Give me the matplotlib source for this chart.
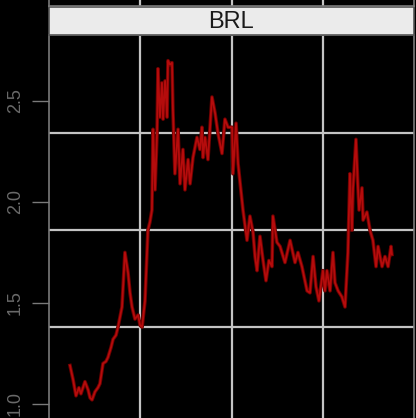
import matplotlib.pyplot as plt

# BRL series (x in years, y in currency units)
years = [1996.15, 1996.32, 1996.48, 1996.64, 1996.75, 1996.97, 1997.14, 1997.25, 1997.36, 1997.52,
         1997.68, 1997.79, 1997.96, 1998.12, 1998.23, 1998.40, 1998.51, 1998.67, 1998.78, 1998.89,
         1999.00, 1999.16, 1999.33, 1999.44, 1999.55, 1999.71, 1999.88, 1999.99, 2000.10, 2000.26,
         2000.42, 2000.53, 2000.64, 2000.70, 2000.81, 2000.92, 2000.97, 2001.08, 2001.19, 2001.25,
         2001.36, 2001.47, 2001.52, 2001.63, 2001.74, 2001.79, 2001.90, 2002.07, 2002.18, 2002.34,
         2002.45, 2002.62, 2002.73, 2002.89, 2003.11, 2003.27, 2003.38, 2003.44, 2003.55, 2003.71,
         2003.93, 2004.10, 2004.26, 2004.48, 2004.64, 2004.81, 2005.03, 2005.08, 2005.25, 2005.36,
         2005.63, 2005.85, 2006.01, 2006.18, 2006.29, 2006.40, 2006.56, 2006.73, 2006.89, 2007.05,
         2007.22, 2007.27, 2007.49, 2007.66, 2007.93, 2008.21, 2008.48, 2008.64, 2008.86, 2009.14,
         2009.30, 2009.47, 2009.63, 2009.79, 2010.01, 2010.12, 2010.23, 2010.40, 2010.56, 2010.67,
         2010.84, 2011.05, 2011.22, 2011.38, 2011.49, 2011.60, 2011.66, 2011.82, 2011.93, 2011.99,
         2012.15, 2012.21, 2012.42, 2012.59, 2012.75, 2012.92, 2013.03, 2013.25, 2013.41, 2013.58,
         2013.74, 2013.79]
brl = [1.19, 1.12, 1.04, 1.08, 1.05, 1.11, 1.07, 1.03, 1.02, 1.06,
       1.08, 1.10, 1.20, 1.21, 1.23, 1.28, 1.32, 1.34, 1.38, 1.43,
       1.48, 1.75, 1.65, 1.55, 1.48, 1.42, 1.44, 1.39, 1.38, 1.51,
       1.86, 1.90, 1.96, 2.36, 2.06, 2.34, 2.66, 2.42, 2.59, 2.41,
       2.60, 2.42, 2.70, 2.68, 2.69, 2.46, 2.14, 2.36, 2.09, 2.26,
       2.06, 2.21, 2.09, 2.22, 2.32, 2.26, 2.37, 2.22, 2.32, 2.21,
       2.52, 2.44, 2.34, 2.24, 2.41, 2.37, 2.37, 2.14, 2.39, 2.19,
       1.96, 1.81, 1.93, 1.85, 1.73, 1.66, 1.83, 1.71, 1.61, 1.71,
       1.68, 1.93, 1.80, 1.78, 1.70, 1.81, 1.70, 1.75, 1.68, 1.56,
       1.55, 1.73, 1.58, 1.51, 1.66, 1.56, 1.66, 1.56, 1.75, 1.60,
       1.56, 1.53, 1.48, 1.75, 2.14, 1.86, 2.07, 2.31, 2.07, 1.96,
       2.07, 1.91, 1.95, 1.86, 1.81, 1.68, 1.78, 1.68, 1.73, 1.68,
       1.78, 1.74]

y_ticks = [1.0, 1.5, 2.0, 2.5]
h_grid = [1.38, 1.86, 2.34]
v_grid = [2000, 2005, 2010]
panel_name = 'BRL'

W, H = 416, 418
fig = plt.figure(figsize=(W / 100, H / 100), dpi=100, facecolor='black')

grey = '#7a7a7a'
label_grey = '#6a6a6a'
grid_col = '#c4c4c4'

# main panel
ax = fig.add_axes([49 / W, 0, 365 / W, 383 / H], facecolor='black')
for v in h_grid:
    ax.axhline(v, color=grid_col, lw=1.6, zorder=1)
for v in v_grid:
    ax.axvline(v, color=grid_col, lw=1.6, zorder=1)
ax.plot(years, brl, color='#6e0000', lw=2.6, zorder=3)
ax.plot(years, brl, color='#b50c0c', lw=1.3, zorder=4)
ax.set_xlim(1995, 2015)
ax.set_ylim(0.93, 2.827)
ax.set_yticks(y_ticks)
ax.set_yticklabels(['1.0', '1.5', '2.0', '2.5'], rotation=90, va='center',
                   family='Liberation Sans', fontsize=13, color=label_grey)
ax.tick_params(axis='y', length=12, width=1, color=grey, pad=6)
ax.set_xticks([])
for s in ax.spines.values():
    s.set_color(grey)
    s.set_linewidth(1.2)
ax.spines['bottom'].set_visible(False)

# strip with the panel name
strip = fig.add_axes([49 / W, 383 / H, 365 / W, 28 / H], facecolor='#ebebeb')
strip.set_xticks([])
strip.set_yticks([])
for s in strip.spines.values():
    s.set_color('#555555')
    s.set_linewidth(1.2)
strip.text(0.5, 0.47, panel_name, ha='center', va='center', fontsize=17,
           family='Liberation Sans', color='#1a1a1a', transform=strip.transAxes)

# bottom edge of the panel above
top = fig.add_axes([49 / W, 412 / H, 365 / W, 6 / H], facecolor='black')
top.set_xlim(1995, 2015)
for v in v_grid:
    top.axvline(v, color=grid_col, lw=1.6)
top.set_xticks([])
top.set_yticks([])
for s in top.spines.values():
    s.set_color(grey)
    s.set_linewidth(1.2)
top.spines['top'].set_visible(False)

fig.savefig('out.png', dpi=100, facecolor='black')
